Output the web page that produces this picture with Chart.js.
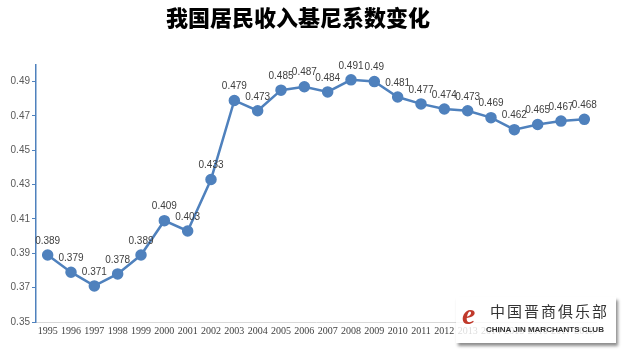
<!DOCTYPE html>
<html>
<head>
<meta charset="utf-8">
<script src="https://cdn.jsdelivr.net/npm/chart.js@4/dist/chart.umd.min.js"></script>
<style>
html,body{margin:0;padding:0;background:#fff;}
#wrap{position:relative;width:625px;height:354px;}
#wm{position:absolute;left:456px;top:297px;width:160px;height:46px;background:rgba(255,255,255,0.82);box-shadow:2px 3px 3px rgba(0,0,0,0.45);white-space:nowrap;}
#wm .e{position:absolute;left:6px;top:0px;font:italic bold 30px "Liberation Serif",serif;color:#c0392b;}
#wm .cn{position:absolute;left:34px;top:3px;font:15px "Noto Sans CJK SC",sans-serif;letter-spacing:2px;color:#333;}
#wm .en{position:absolute;left:30px;top:28px;font:bold 8px "Liberation Sans",sans-serif;color:#333;}
</style>
</head>
<body>
<div id="wrap">
<canvas id="c" width="625" height="354"></canvas>
<div id="wm"><span class="e">e</span><span class="cn">中国晋商俱乐部</span><span class="en">CHINA JIN MARCHANTS CLUB</span></div>
</div>
<script>
const years = ["1995","1996","1997","1998","1999","2000","2001","2002","2003","2004","2005","2006","2007","2008","2009","2010","2011","2012","2013","2014","2015","2016","2017","2018"];
const gini = [0.389,0.379,0.371,0.378,0.389,0.409,0.403,0.433,0.479,0.473,0.485,0.487,0.484,0.491,0.49,0.481,0.477,0.474,0.473,0.469,0.462,0.465,0.467,0.468];
const yTicks = [0.35,0.37,0.39,0.41,0.43,0.45,0.47,0.49];
const titleText = "我国居民收入基尼系数变化";

const labelPlugin = {
  id: 'vlabels',
  afterDatasetsDraw(chart) {
    const ctx = chart.ctx;
    const meta = chart.getDatasetMeta(0);
    ctx.save();
    ctx.font = '10px "Liberation Sans", sans-serif';
    ctx.fillStyle = '#404040';
    ctx.textAlign = 'center';
    ctx.textBaseline = 'middle';
    meta.data.forEach((pt, i) => {
      ctx.fillText(String(gini[i]), pt.x, pt.y - 14);
    });
    ctx.restore();
  }
};

new Chart(document.getElementById('c'), {
  type: 'line',
  data: {
    labels: years,
    datasets: [{
      data: gini,
      borderColor: '#4F81BD',
      backgroundColor: '#4F81BD',
      borderWidth: 2.5,
      pointRadius: 4.5,
      pointBackgroundColor: '#4F81BD',
      pointBorderColor: '#4F81BD',
      tension: 0
    }]
  },
  options: {
    responsive: false,
    animation: false,
    layout: { padding: { left: 0, right: 29, top: 0, bottom: 0 } },
    plugins: {
      legend: { display: false },
      tooltip: { enabled: false },
      title: {
        display: true,
        text: titleText,
        font: { family: '"Noto Sans CJK SC", sans-serif', size: 22, weight: '900' },
        color: '#000',
        padding: { top: 4, bottom: 34 }
      }
    },
    scales: {
      x: {
        offset: true,
        grid: { display: false, drawTicks: false },
        border: { display: true, color: '#D9D9D9', width: 1 },
        ticks: {
          autoSkip: false, maxRotation: 0, minRotation: 0,
          color: '#404040',
          font: { family: '"Liberation Serif", serif', size: 10 },
          padding: 3
        },
        afterFit(s) { s.height = 32; }
      },
      y: {
        min: 0.35, max: 0.5,
        grid: { drawOnChartArea: false, drawTicks: true, tickLength: 4, color: '#4F81BD' },
        border: { display: true, color: '#4F81BD', width: 1.5 },
        afterBuildTicks(s) { s.ticks = yTicks.map(v => ({ value: v })); },
        ticks: {
          color: '#595959',
          font: { family: '"Liberation Sans", sans-serif', size: 10 },
          padding: 2,
          callback: (v) => v.toFixed(2)
        },
        afterFit(s) { s.width = 36; }
      }
    }
  },
  plugins: [labelPlugin]
});
</script>
</body>
</html>
